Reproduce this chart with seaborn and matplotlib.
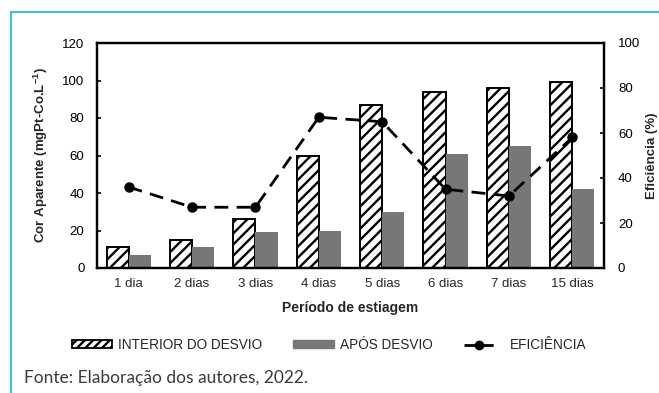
import matplotlib
matplotlib.use("Agg")
import matplotlib.pyplot as plt
from matplotlib.lines import Line2D
from matplotlib.patches import Patch
from matplotlib.legend_handler import HandlerLine2D
import seaborn as sns
import pandas as pd

# Drought period categories
periodos = ["1 dia", "2 dias", "3 dias", "4 dias", "5 dias", "6 dias", "7 dias", "15 dias"]
# Apparent colour (mgPt-Co/L) inside the diverter and after it
interior = [11, 15, 26, 60, 87, 94, 96, 99]
apos = [7, 11, 19, 20, 30, 61, 65, 42]
# Removal efficiency (%)
eficiencia = [36, 27, 27, 67, 65, 35, 32, 58]

serie_int = "INTERIOR DO DESVIO"
serie_apos = "APÓS DESVIO"
serie_ef = "EFICIÊNCIA"


class ShortLineHandler(HandlerLine2D):
    """Line legend key that is shorter than the patch keys, left-aligned
    so the gap sits between the key and its label."""

    def __init__(self, shrink=0.8, **kw):
        super().__init__(xpad=shrink, **kw)
        self._shrink = shrink

    def create_artists(self, legend, orig_handle, xdescent, ydescent,
                       width, height, fontsize, trans):
        xdescent = xdescent + self._shrink * fontsize
        return super().create_artists(legend, orig_handle, xdescent, ydescent,
                                      width, height, fontsize, trans)


sns.set_theme(style="white")
plt.rcParams["font.family"] = ["Liberation Sans", "DejaVu Sans"]
plt.rcParams["hatch.linewidth"] = 1.7

df = pd.DataFrame({
    "periodo": periodos * 2,
    "cor": interior + apos,
    "serie": [serie_int] * len(periodos) + [serie_apos] * len(periodos),
})
df_ef = pd.DataFrame({"periodo": periodos, "ef": eficiencia})

fig = plt.figure(figsize=(6.59, 3.93), dpi=100)
ax = fig.add_axes([97 / 659, 1 - 268 / 393, (604 - 97) / 659, (268 - 43) / 393])

gray = "#777777"
sns.barplot(data=df, x="periodo", y="cor", hue="serie", order=periodos,
            hue_order=[serie_int, serie_apos], palette=["white", gray],
            width=0.7, gap=0, saturation=1, ax=ax, legend=False)

n = len(periodos)
for i, bar in enumerate(ax.patches[:2 * n]):
    if i < n:
        bar.set_facecolor("white")
        bar.set_edgecolor("black")
        bar.set_hatch("///")
        bar.set_linewidth(1.4)
    else:
        bar.set_facecolor(gray)
        bar.set_edgecolor(gray)
        bar.set_linewidth(0)

ax.set_ylim(0, 120)
ax.set_yticks(range(0, 121, 20))
ax.set_xlim(-0.5, n - 0.5)
ax.set_xlabel("Período de estiagem", fontsize=10, fontweight="bold", labelpad=8)
ax.set_ylabel("Cor Aparente (mgPt-Co.L$^{\\mathregular{-1}}$)", fontsize=9.5,
              fontweight="bold", labelpad=9)
ax.tick_params(axis="y", direction="in", length=3, width=1.2, labelsize=9.5,
               pad=9, colors="black")
ax.tick_params(axis="x", length=0, labelsize=9.5, pad=7)
for sp in ax.spines.values():
    sp.set_color("black")
    sp.set_linewidth(1.6)

ax2 = ax.twinx()
sns.pointplot(data=df_ef, x="periodo", y="ef", order=periodos, color="black",
              markers="o", linestyles="--", markersize=6, linewidth=2,
              errorbar=None, ax=ax2)
for ln in ax2.lines:
    ln.set_dashes((5, 3))
ax2.set_ylim(0, 100)
ax2.set_yticks(range(0, 101, 20))
ax2.set_xlim(-0.5, n - 0.5)
ax2.set_ylabel("Eficiência (%)", fontsize=9.5, fontweight="bold", labelpad=4)
ax2.set_xlabel("")
ax2.tick_params(axis="y", direction="in", length=3, width=1.2, labelsize=9.5,
                pad=10, colors="black")
for sp in ax2.spines.values():
    sp.set_color("black")
    sp.set_linewidth(1.6)

line_handle = Line2D([0], [0], color="black", linestyle=(0, (4, 2.5)),
                     linewidth=2, marker="o", markersize=6)
handles = [
    Patch(facecolor="white", edgecolor="black", hatch="////", linewidth=1.3),
    Patch(facecolor=gray, edgecolor=gray),
    line_handle,
]
fig.legend(handles, [serie_int, serie_apos, serie_ef], loc="center",
           bbox_to_anchor=(329 / 659, 1 - 345 / 393), ncol=3, frameon=False,
           fontsize=9.8, handlelength=3.0, handleheight=0.55, handletextpad=0.4,
           columnspacing=2.3,
           handler_map={line_handle: ShortLineHandler(shrink=0.8)})

# Page frame lines and source note
blue = "#4DB8E2"
fig.add_artist(Line2D([11 / 659, 1], [1 - 12 / 393, 1 - 12 / 393],
                      transform=fig.transFigure, color=blue, linewidth=1.6))
fig.add_artist(Line2D([11 / 659, 11 / 659], [0, 1 - 12 / 393],
                      transform=fig.transFigure, color=blue, linewidth=1.6))
fig.text(24 / 659, 1 - 378 / 393, "Fonte: Elaboração dos autores, 2022.",
         fontsize=12.5, family=["Lato", "DejaVu Sans"], fontweight="normal",
         color="#3a3a3a", va="center", ha="left")

fig.savefig("out.png", dpi=100)
